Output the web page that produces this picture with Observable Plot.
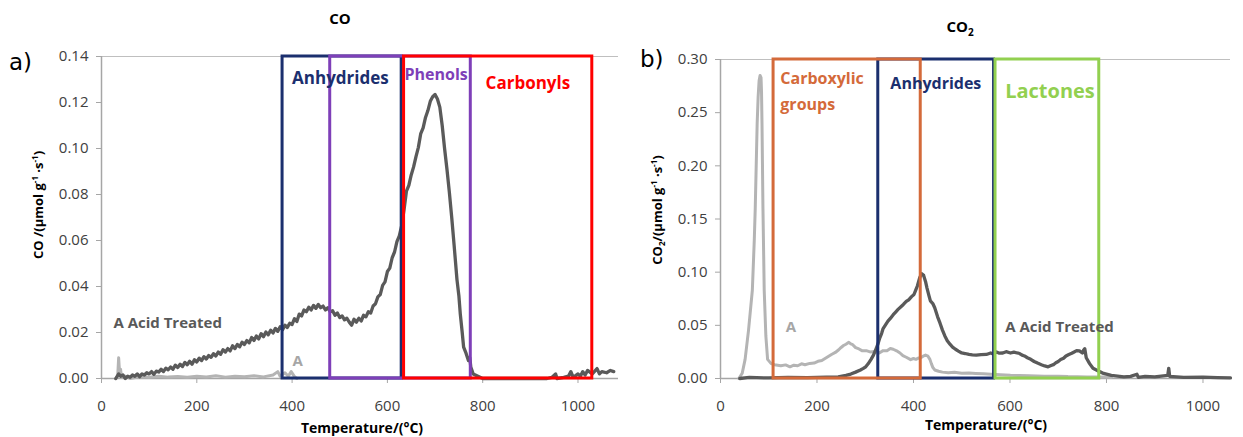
<!DOCTYPE html>
<html><head><meta charset="utf-8">
<script src="https://cdn.jsdelivr.net/npm/d3@7"></script>
<script src="https://cdn.jsdelivr.net/npm/@observablehq/plot@0.6"></script>
<style>
body{margin:0;background:#fff;}
#wrap{position:relative;width:1243px;height:437px;overflow:hidden;font-family:"Open Sans",sans-serif;color:#000;}
.abs{position:absolute;white-space:nowrap;line-height:1;}
.plot{position:absolute;top:0;}
.plot svg g[aria-label="x-axis tick"], .plot svg g[aria-label="y-axis tick"]{stroke:#A6A6A6;}
.ttl{font-weight:bold;font-size:15px;transform:translate(-50%,-50%);}
.xl{font-weight:bold;font-size:14px;transform:translate(-50%,-50%);}
.yl{font-weight:bold;font-size:13px;transform:translate(-50%,-50%) rotate(-90deg);}
.pl{font-family:"DejaVu Sans",sans-serif;font-size:23px;transform:translate(0,-50%);}
</style></head>
<body><div id="wrap">
<div class="abs ttl" style="left:340px;top:18px">CO</div>
<div class="abs ttl" style="left:960px;top:28px">CO<sub style="font-size:10px">2</sub></div>
<div class="abs pl" style="left:9px;top:62px">a)</div>
<div class="abs pl" style="left:640px;top:59px">b)</div>
<div class="abs yl" style="left:38px;top:205px">CO /(µmol g<sup style="font-size:8px">-1</sup> ·s<sup style="font-size:8px">-1</sup>)</div>
<div class="abs yl" style="left:658px;top:210px">CO<sub style="font-size:8px">2</sub>/(µmol g<sup style="font-size:8px">-1</sup> ·s<sup style="font-size:8px">-1</sup>)</div>
<div class="abs xl" style="left:362px;top:428px">Temperature/(°C)</div>
<div class="abs xl" style="left:986px;top:425px">Temperature/(°C)</div>
<div id="p1" class="plot" style="left:0px"></div>
<div id="p2" class="plot" style="left:625px"></div>
</div>
<script>
// ---- data ----
const xTicks = [0, 200, 400, 600, 800, 1000];
const coTicks = [0, 0.02, 0.04, 0.06, 0.08, 0.10, 0.12, 0.14];
const co2Ticks = [0, 0.05, 0.10, 0.15, 0.20, 0.25, 0.30];

// CO, A Acid Treated  [temperature, value]
const coAcid = [[30,0],[36,0.002],[40,0.001],[45,0.0015],[50,0.000],[55,0.001],[60,0.0005],[65,0.0015],[70,0.001],[75,0.002],[80,0.0008],[85,0.002],[90,0.0015],[95,0.0025],[100,0.002],[105,0.003],[110,0.0018],[115,0.0032],[120,0.0028],[125,0.004],[130,0.003],[135,0.0045],[140,0.0038],[145,0.005],[150,0.004],[155,0.0058],[160,0.0048],[165,0.0062],[170,0.0052],[175,0.007],[180,0.006],[185,0.0075],[190,0.0062],[195,0.0082],[200,0.0072],[205,0.0088],[210,0.0078],[215,0.0095],[220,0.0085],[225,0.01],[230,0.0092],[235,0.0108],[240,0.0098],[245,0.0115],[250,0.0105],[255,0.0125],[260,0.0115],[265,0.013],[270,0.012],[275,0.0142],[280,0.013],[285,0.0148],[290,0.0138],[295,0.0158],[300,0.0148],[305,0.0165],[310,0.0155],[315,0.0178],[320,0.0165],[325,0.0185],[330,0.0172],[335,0.0195],[340,0.0182],[345,0.0202],[350,0.019],[355,0.021],[360,0.0198],[365,0.0218],[370,0.0205],[375,0.0225],[380,0.0212],[385,0.0232],[390,0.0222],[395,0.024],[400,0.0235],[405,0.026],[410,0.0248],[415,0.028],[420,0.0272],[425,0.0298],[430,0.029],[435,0.031],[440,0.0298],[445,0.0318],[450,0.0305],[455,0.0322],[460,0.0308],[465,0.0315],[470,0.0298],[475,0.0308],[480,0.029],[485,0.0295],[490,0.0275],[495,0.0285],[500,0.0265],[505,0.0272],[510,0.0255],[515,0.0262],[520,0.0245],[525,0.0232],[530,0.0258],[535,0.0245],[540,0.0262],[545,0.025],[550,0.0275],[555,0.0268],[560,0.029],[565,0.0285],[570,0.0315],[575,0.0325],[580,0.0355],[585,0.0365],[590,0.0405],[595,0.042],[600,0.0465],[605,0.048],[610,0.0525],[615,0.055],[620,0.0595],[625,0.062],[630,0.0665],[635,0.0735],[640,0.0815],[645,0.084],[650,0.0885],[655,0.092],[660,0.0965],[665,0.1005],[670,0.1065],[675,0.109],[680,0.1135],[685,0.1165],[690,0.1205],[695,0.1225],[700,0.1235],[705,0.1215],[710,0.118],[715,0.11],[720,0.1],[725,0.091],[730,0.081],[735,0.07],[740,0.058],[746,0.043],[750,0.036],[753,0.028],[757,0.02],[760,0.0136],[765,0.011],[770,0.0078],[773,0.009],[775,0.005],[780,0.002],[790,0.001],[800,0],[850,0],[900,0],[935,0],[945,0.0005],[953,0.002],[956,0],[970,0.0005],[980,0.001],[985,0.003],[990,0.0005],[1000,0.002],[1005,0.001],[1010,0.003],[1015,0.0015],[1020,0.0035],[1030,0.002],[1040,0.0043],[1045,0.002],[1050,0.003],[1060,0.0025],[1068,0.0035],[1075,0.003]];
// CO, A
const coA = [[30,0],[34,0.001],[36,0.009],[38,0.002],[40,0.004],[42,0.0005],[50,0.001],[60,0],[80,0.0008],[100,0.0005],[120,0.001],[140,0.0006],[160,0.0009],[180,0.0005],[200,0.001],[220,0.0007],[240,0.0012],[260,0.0006],[280,0.001],[300,0.0008],[320,0.0012],[340,0.0007],[360,0.0015],[370,0.003],[375,0.001],[385,0.0025],[392,0.001],[398,0.003],[405,0.0008],[410,0]];

// CO2, A Acid Treated
const co2Acid = [[40,0],[60,0.001],[100,0.0005],[140,0.001],[180,0.0008],[220,0.0012],[244,0.0015],[260,0.003],[270,0.0042],[280,0.006],[290,0.008],[296,0.0095],[301,0.011],[306,0.0138],[312,0.018],[317,0.022],[322,0.0275],[326,0.032],[330,0.038],[334,0.0425],[337,0.047],[342,0.0505],[347,0.054],[352,0.0565],[358,0.06],[363,0.0625],[368,0.065],[374,0.0675],[379,0.0696],[385,0.0725],[390,0.074],[396,0.077],[401,0.079],[405,0.0835],[408,0.087],[413,0.095],[417,0.0986],[421,0.097],[425,0.091],[428,0.085],[432,0.078],[435,0.073],[440,0.0705],[444,0.0665],[450,0.058],[455,0.052],[460,0.0455],[465,0.04],[470,0.0355],[476,0.032],[481,0.0295],[487,0.0275],[493,0.0258],[500,0.024],[507,0.0235],[515,0.0226],[522,0.0222],[530,0.022],[540,0.0225],[551,0.0226],[560,0.024],[565,0.0232],[572,0.0249],[578,0.0238],[585,0.024],[592,0.0252],[601,0.024],[608,0.0248],[615,0.024],[620,0.0235],[625,0.022],[630,0.0212],[636,0.0195],[643,0.018],[650,0.016],[657,0.0145],[665,0.013],[672,0.0118],[679,0.011],[685,0.0122],[690,0.013],[695,0.0148],[700,0.016],[705,0.0178],[711,0.019],[716,0.0212],[722,0.0226],[728,0.0238],[733,0.025],[738,0.0262],[744,0.026],[750,0.024],[753,0.027],[755,0.028],[758,0.0195],[765,0.014],[772,0.0096],[778,0.0082],[783,0.007],[788,0.006],[794,0.0048],[810,0.003],[836,0.0016],[850,0.002],[863,0.004],[866,0.001],[880,0.002],[900,0.0015],[927,0.003],[929,0.0096],[931,0.002],[960,0.001],[1000,0.0012],[1030,0.0008],[1057,0.0005]];
// CO2, A
const co2A = [[38,0],[45,0.005],[51,0.018],[58,0.045],[66,0.083],[70,0.13],[72,0.16],[74,0.2],[76,0.24],[78,0.265],[80,0.28],[82,0.285],[84,0.283],[85,0.27],[86,0.24],[87,0.2],[88,0.16],[90.6,0.083],[94,0.04],[97.6,0.018],[105,0.014],[112,0.013],[125,0.012],[135,0.0128],[144,0.011],[152,0.0125],[160,0.012],[168,0.0138],[175,0.013],[185,0.0142],[194,0.0145],[202,0.0162],[210,0.017],[220,0.0198],[230,0.0226],[238,0.0245],[245,0.027],[250,0.0292],[255,0.031],[260,0.0322],[266,0.034],[270,0.0325],[274,0.0318],[280,0.029],[287,0.0278],[294,0.026],[302,0.0262],[310,0.025],[320,0.0255],[329,0.024],[337,0.0262],[345,0.026],[352,0.0282],[358,0.0275],[365,0.026],[372,0.024],[378,0.0215],[385,0.02],[394,0.0177],[400,0.0188],[405,0.018],[410,0.0192],[415,0.0195],[420,0.021],[425,0.022],[430,0.021],[434,0.018],[437,0.014],[440,0.0105],[444,0.008],[452,0.0068],[460,0.006],[472,0.0055],[485,0.0058],[500,0.005],[515,0.0052],[529,0.0048],[545,0.0045],[560,0.004],[580,0.0035],[601,0.003],[620,0.0028],[640,0.0025],[671,0.002],[700,0.0022],[720,0.0018],[760,0.0015],[800,0.0015],[810,0.001]];

// regions (temperature ranges)
const coRegions = [
  {name:"Anhydrides", x1:380, x2:630, color:"#1B2F6E"},
  {name:"Phenols", x1:480, x2:775, color:"#7E3FB8"},
  {name:"Carbonyls", x1:635, x2:1030, color:"#FF0000"}
];
const co2Regions = [
  {name:"Anhydrides", x1:327, x2:567, color:"#1B2F6E"},
  {name:"Carboxylic groups", x1:110, x2:415, color:"#D46A3A"},
  {name:"Lactones", x1:570, x2:785, color:"#92D050"}
];
// annotation anchors (temperature, value)
const coNotes = [
  {t:"Anhydrides", x:400, y:0.1304, c:"#1B2F6E", s:17},
  {t:"Phenols", x:636, y:0.1318, c:"#7E3FB8", s:16},
  {t:"Carbonyls", x:806, y:0.1283, c:"#FF0000", s:17},
  {t:"A Acid Treated", x:25, y:0.0239, c:"#595959", s:15},
  {t:"A", x:401, y:0.0074, c:"#A6A6A6", s:15}
];
const co2Notes = [
  {t:"Carboxylic", x:124, y:0.282, c:"#D46A3A", s:16},
  {t:"groups", x:124, y:0.2577, c:"#D46A3A", s:16},
  {t:"Anhydrides", x:352, y:0.2775, c:"#1B2F6E", s:16},
  {t:"Lactones", x:590, y:0.27, c:"#92D050", s:20},
  {t:"A", x:135, y:0.0487, c:"#A6A6A6", s:15},
  {t:"A Acid Treated", x:590, y:0.0487, c:"#595959", s:15}
];

const font = "'Open Sans', sans-serif";
function noteMarks(notes){
  return notes.map(n => Plot.text([n], {x:"x", y:"y", text:"t", fill:"c", fontSize:n.s, fontWeight:"bold", textAnchor:"start", lineAnchor:"middle", fontFamily:font}));
}
function panel(opts){
  return Plot.plot({
    width: opts.width, height: 437,
    marginLeft: opts.ml, marginRight: opts.mr, marginTop: opts.mt, marginBottom: opts.mb,
    x: {domain: opts.xd, ticks: xTicks, tickFormat: d3.format("d"), tickSize: 5, tickPadding: 17, label: null},
    y: {domain: opts.yd, ticks: opts.yt, tickFormat: d3.format(".2f"), tickSize: 5, tickPadding: 8, label: null},
    style: {fontFamily: font, fontSize: "15px", color: "#404040", background: "transparent", overflow: "visible"},
    marks: [
      Plot.ruleY([opts.yd[1]], {stroke:"#BFBFBF", strokeWidth:1.2}),
      Plot.ruleX([0], {stroke:"#A6A6A6", strokeWidth:1.5}),
      Plot.ruleY([0], {stroke:"#A6A6A6", strokeWidth:1.5}),
      Plot.line(opts.light, {x:d=>d[0], y:d=>d[1], stroke:"#B4B4B4", strokeWidth:3, curve:"linear"}),
      Plot.line(opts.dark, {x:d=>d[0], y:d=>d[1], stroke:"#5A5A5A", strokeWidth:3.3, curve:"linear"}),
      Plot.rect(opts.regions, {x1:"x1", x2:"x2", y1:opts.yd[0], y2:opts.yd[1], fill:"none", stroke:"color", strokeWidth:3}),
      ...noteMarks(opts.notes)
    ]
  });
}
document.getElementById("p1").appendChild(panel({
  width:625, ml:101, mr:7, mt:56, mb:59, xd:[0,1085], yd:[0,0.14], yt:coTicks,
  light:coA, dark:coAcid, regions:coRegions, notes:coNotes
}));
document.getElementById("p2").appendChild(panel({
  width:618, ml:95, mr:13, mt:59, mb:59, xd:[0,1057], yd:[0,0.30], yt:co2Ticks,
  light:co2A, dark:co2Acid, regions:co2Regions, notes:co2Notes
}));
</script>
</body></html>
